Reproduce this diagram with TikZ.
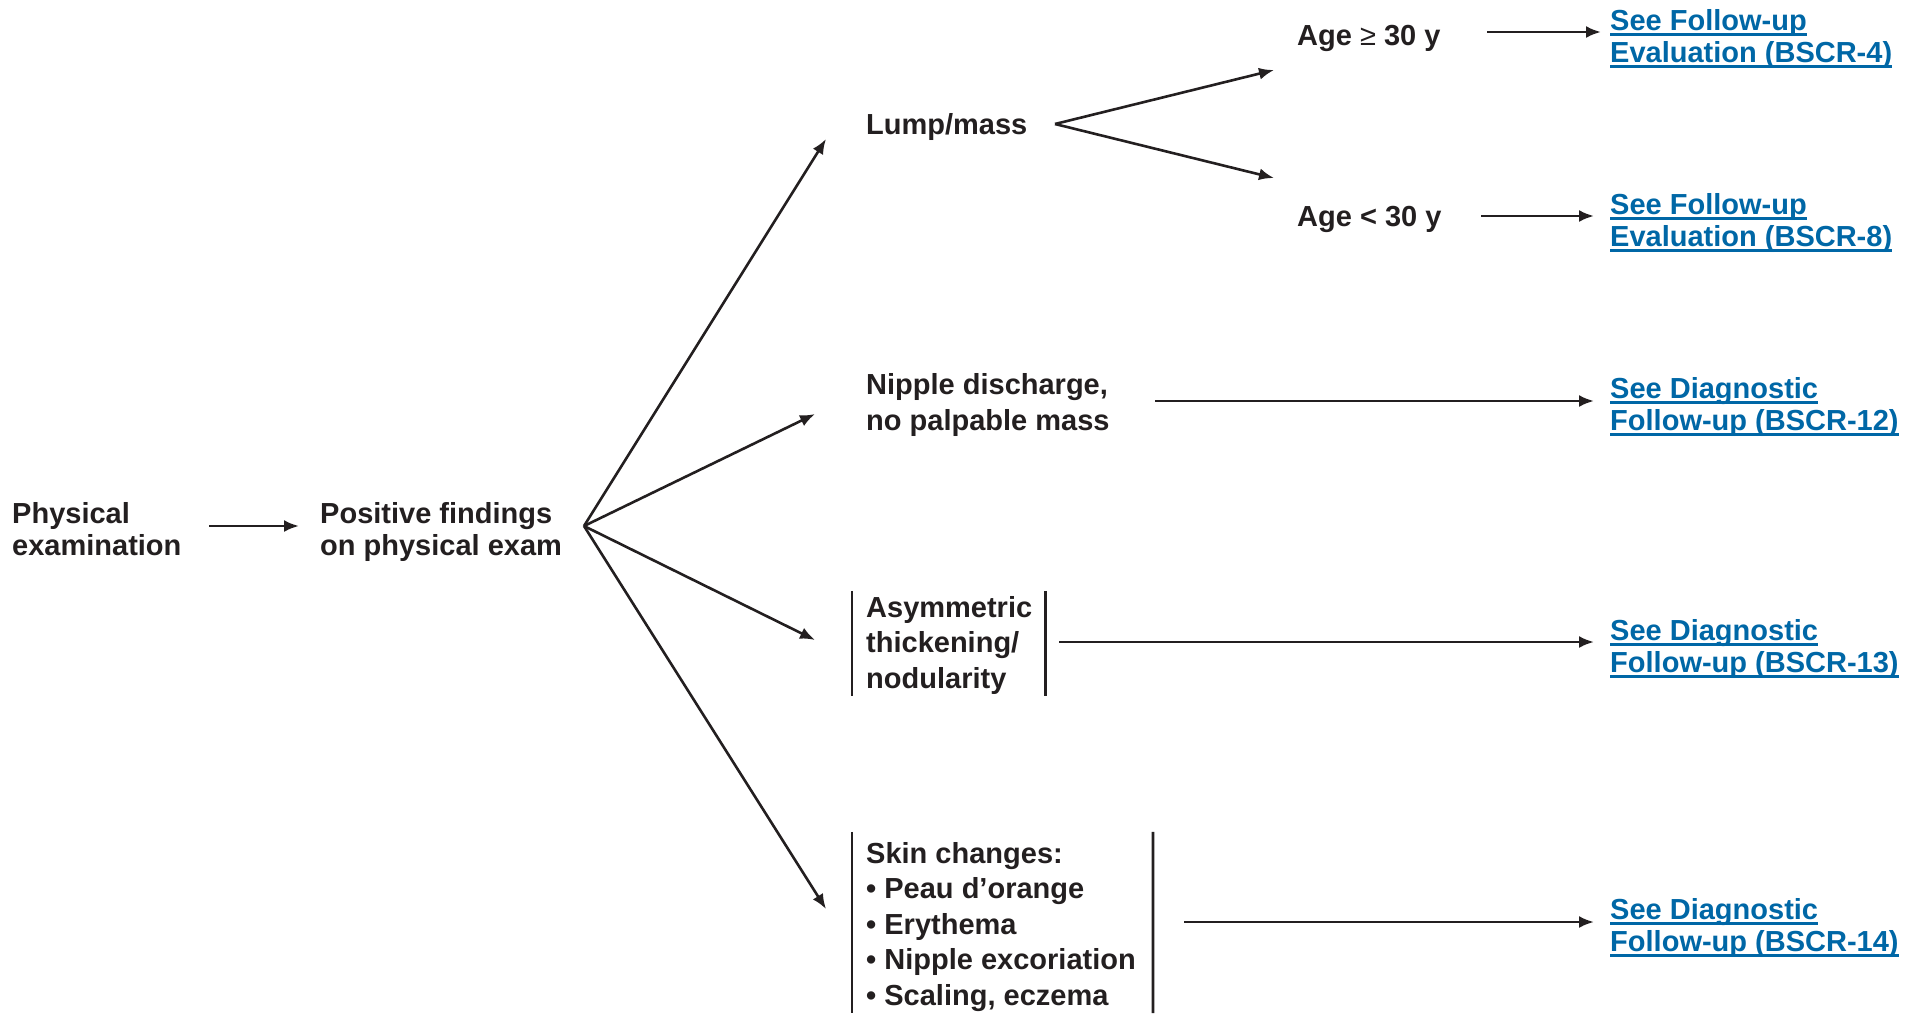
\documentclass[tikz,border=0pt]{standalone}
\usepackage{fontspec}
\setmainfont{Liberation Sans}
\usepackage{tikz}
\usetikzlibrary{arrows.meta}

\definecolor{inkgray}{RGB}{35,31,32}
\definecolor{linkblue}{RGB}{0,103,166}
\newcommand{\linktext}[1]{\setbox0\hbox{#1}\rlap{\vrule height -3pt depth 5.5pt width \wd0}\box0}

\tikzset{
	finding/.style={anchor=base west, inner sep=0pt, align=left, text=inkgray,
		font=\fontsize{29}{32}\selectfont\bfseries},
	roomy/.style={font=\fontsize{29}{35.5}\selectfont\bfseries},
	seelink/.style={finding, text=linkblue},
	arr/.style={draw=inkgray, line width=2.6pt, -{Latex[length=15pt,width=12pt]}},
	bar/.style={draw=inkgray, line width=2.6pt}
}

\begin{document}
\begin{tikzpicture}[x=1pt,y=-1pt]
		\useasboundingbox (0,0) rectangle (1927,1013);

		% left part (base = last line)
		\node[finding] (phys) at (12,555) {Physical\\examination};
		\node[finding] (pos) at (320,555) {Positive findings\\on physical exam};

		% findings
		\node[finding] (lump) at (866,134) {Lump/mass};
		\node[finding, roomy] (nipple) at (866,430) {Nipple discharge,\\no palpable mass};
		\node[finding, roomy] (asym) at (866,688) {Asymmetric\\thickening/\\nodularity};
		\node[finding, roomy] (skin) at (866,1005) {Skin changes:\\• Peau d’orange\\• Erythema\\• Nipple excoriation\\• Scaling, eczema};

		\node[finding] (age1) at (1297,45) {Age {\mdseries ≥} 30 y};
		\node[finding] (age2) at (1297,226) {Age < 30 y};

		% links
		\node[seelink] (link1) at (1610,62) {\linktext{See Follow-up}\\\linktext{Evaluation (BSCR-4)}};
		\node[seelink] (link2) at (1610,246) {\linktext{See Follow-up}\\\linktext{Evaluation (BSCR-8)}};
		\node[seelink] (link3) at (1610,430) {\linktext{See Diagnostic}\\\linktext{Follow-up (BSCR-12)}};
		\node[seelink] (link4) at (1610,672) {\linktext{See Diagnostic}\\\linktext{Follow-up (BSCR-13)}};
		\node[seelink] (link5) at (1610,951) {\linktext{See Diagnostic}\\\linktext{Follow-up (BSCR-14)}};

		% bars
		\draw[bar] ([shift={(-14,-5)}]asym.north west) -- ([shift={(-14,2)}]asym.south west);
		\draw[bar] ([shift={(13,-5)}]asym.north east) -- ([shift={(13,2)}]asym.south east);
		\draw[bar] ([shift={(-14,-10)}]skin.north west) -- (852,1013);
		\draw[bar] ([shift={(17,-10)}]skin.north east) -- (1153,1013);

		% arrow ends
		\coordinate (start) at (209,526);
		\coordinate (fan) at (584,526);
		\coordinate (fork) at (1055,124);
		\coordinate (lumptip) at (826,139);
		\coordinate (nippletip) at (815,414);
		\coordinate (asymtip) at (815,640);
		\coordinate (skintip) at (826,909);
		\coordinate (age1tip) at (1274,70);
		\coordinate (age2tip) at (1274,178);
		\coordinate (out1) at (1487,32);
		\coordinate (out2) at (1481,216);
		\coordinate (out3) at (1155,401);
		\coordinate (out4) at (1059,642);
		\coordinate (out5) at (1184,922);

		\draw[arr, shorten >=21pt] (start) -- (start -| pos.west);
		\draw[arr] (fan) -- (lumptip);
		\draw[arr] (fan) -- (nippletip);
		\draw[arr] (fan) -- (asymtip);
		\draw[arr] (fan) -- (skintip);
		\draw[arr] (fork) -- (age1tip);
		\draw[arr] (fork) -- (age2tip);

		\draw[arr, shorten >=9pt] (out1) -- (out1 -| link1.west);
		\draw[arr, shorten >=16pt] (out2) -- (out2 -| link2.west);
		\draw[arr, shorten >=16pt] (out3) -- (out3 -| link3.west);
		\draw[arr, shorten >=16pt] (out4) -- (out4 -| link4.west);
		\draw[arr, shorten >=16pt] (out5) -- (out5 -| link5.west);
	\end{tikzpicture}
\end{document}
